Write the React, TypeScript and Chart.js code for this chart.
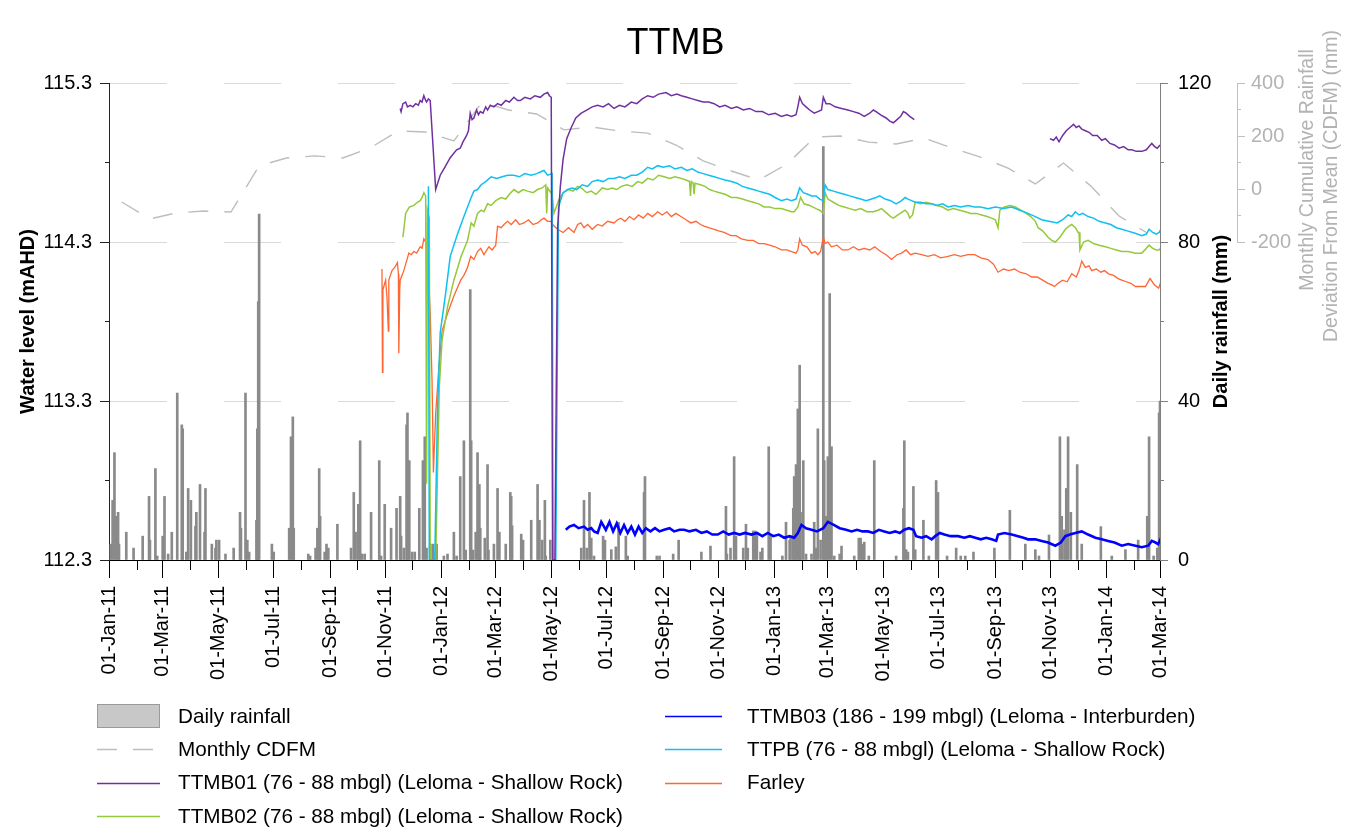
import React, { useEffect, useRef } from 'react';
import { Chart, registerables } from 'chart.js';

Chart.register(...registerables);

const FONT = '"Liberation Sans", Arial, Helvetica, sans-serif';
const MONTHS = ['Jan', 'Feb', 'Mar', 'Apr', 'May', 'Jun', 'Jul', 'Aug', 'Sep', 'Oct', 'Nov', 'Dec'];
const START = Date.UTC(2011, 0, 1);
const dayOfDate = (y: number, m: number, d: number) => Math.round((Date.UTC(y, m, d) - START) / 86400000);

// ---------- text ----------
const chartTitle = 'TTMB';
const leftAxisTitle = 'Water level (mAHD)';
const rainAxisTitle = 'Daily rainfall (mm)';
const cdfmAxisTitle = ['Monthly Cumulative Rainfall', 'Deviation From Mean (CDFM) (mm)'];

// ---------- ticks ----------
const xTickLabels = [
  '01-Jan-11', '01-Mar-11', '01-May-11', '01-Jul-11', '01-Sep-11', '01-Nov-11',
  '01-Jan-12', '01-Mar-12', '01-May-12', '01-Jul-12', '01-Sep-12', '01-Nov-12',
  '01-Jan-13', '01-Mar-13', '01-May-13', '01-Jul-13', '01-Sep-13', '01-Nov-13',
  '01-Jan-14', '01-Mar-14',
];
const leftTicks = [112.3, 113.3, 114.3, 115.3];
const leftMinorTicks = [112.8, 113.8, 114.8];
const rainTicks = [0, 40, 80, 120];
const rainMinorTicks = [20, 60, 100];
const cdfmTicks = [-200, 0, 200, 400];
const cdfmMinorTicks = [-100, 100, 300];

// ---------- data ----------
// Monthly CDFM (mm), plotted mid-month
const cdfmMonths = [
  'Jan-11', 'Feb-11', 'Mar-11', 'Apr-11', 'May-11', 'Jun-11', 'Jul-11', 'Aug-11', 'Sep-11', 'Oct-11', 'Nov-11', 'Dec-11',
  'Jan-12', 'Feb-12', 'Mar-12', 'Apr-12', 'May-12', 'Jun-12', 'Jul-12', 'Aug-12', 'Sep-12', 'Oct-12', 'Nov-12', 'Dec-12',
  'Jan-13', 'Feb-13', 'Mar-13', 'Apr-13', 'May-13', 'Jun-13', 'Jul-13', 'Aug-13', 'Sep-13', 'Oct-13', 'Nov-13', 'Dec-13',
  'Jan-14', 'Feb-14',
];
const cdfmValues = [
  -49, -113, -91, -83, -87, 87, 117, 125, 117, 155, 219, 215,
  181, 328, 298, 283, 223, 234, 219, 211, 166, 106, 68, 34,
  94, 196, 200, 177, 170, 192, 155, 121, 79, 19, 98, 11,
  -102, -166,
];

// Daily rainfall: [day since 01-Jan-11, mm]
const dailyRainfall: [number, number][] = [
  [2, 4], [4, 15], [6, 27], [8, 11], [10, 12], [11, 4], [19, 7], [27, 3], [37, 6], [44, 16], [45, 5], [51, 23], [53, 1],
  [59, 6], [61, 16], [65, 1.5], [69, 7], [75, 42], [80, 34], [81, 33], [85, 2], [87, 18], [90, 15], [95, 8.5], [96, 12],
  [100, 19], [105, 7], [106, 18], [113, 4], [117, 3], [118, 5], [121, 5], [128, 1.5], [137, 3], [144, 12], [145, 8],
  [150, 42], [152, 5], [154, 2], [162, 10], [163, 33], [164, 65], [165, 87], [179, 4], [181, 2], [198, 8], [200, 31],
  [202, 36], [203, 8], [219, 1.5], [221, 1], [227, 3], [229, 8], [231, 23], [232, 11], [237, 2], [239, 4], [241, 3],
  [251, 9], [266, 3], [269, 17], [271, 7], [274, 14], [276, 30], [278, 1.5], [281, 1.5], [288, 12], [297, 25], [299, 1],
  [303, 14], [310, 8], [316, 13], [320, 16], [321, 6], [324, 3], [327, 34], [328, 37], [330, 25], [333, 2], [336, 2],
  [341, 13], [345, 25], [347, 31], [349, 3], [353, 4], [356, 4], [360, 4], [368, 1], [372, 1.5], [379, 7], [382, 1],
  [386, 21], [390, 30], [392, 2.5], [397, 68], [398, 30], [400, 2.5], [403, 7], [405, 27], [407, 19], [408, 8], [413, 5.5],
  [416, 24], [417, 2.5], [423, 4], [427, 18], [429, 7], [436, 4], [441, 17], [442, 16], [443, 8.6], [453, 6.5], [455, 5],
  [464, 10], [471, 19], [473, 10], [476, 5], [479, 15], [480, 1], [485, 5],
  [519, 3], [522, 15], [525, 3], [528, 17], [530, 5.5], [533, 1], [543, 6], [545, 5], [552, 2.6], [557, 3.3], [560, 9.5],
  [568, 6], [570, 1], [588, 17], [589, 21], [602, 1], [605, 1], [620, 1.5], [626, 5], [651, 2], [661, 3.5], [678, 13.5],
  [679, 1.5], [683, 3], [687, 26], [689, 6], [697, 3], [700, 9], [702, 3], [708, 7.3], [710, 7.3], [712, 7], [716, 2],
  [718, 3], [725, 28.5], [727, 6], [740, 1], [744, 9.5], [748, 5], [749, 6], [752, 13], [753, 21], [755, 24], [757, 38],
  [759, 49], [760, 12], [763, 25], [766, 1.5], [772, 1.5], [775, 9.5], [777, 3], [779, 33], [782, 5], [785, 104], [786, 25],
  [788, 11], [790, 26], [792, 67], [794, 28.5], [797, 1], [803, 1.5], [805, 3.5], [819, 1], [824, 5.5], [826, 5.5], [828, 4],
  [830, 4.5], [835, 1], [841, 25], [865, 1], [873, 13], [874, 30], [876, 2.6], [878, 2], [884, 18.5], [886, 2.6], [895, 10],
  [901, 1], [909, 20], [911, 17], [921, 1], [931, 3], [936, 1], [941, 1], [950, 2], [973, 3], [990, 12.5], [1007, 4],
  [1018, 2.6], [1022, 1], [1033, 6.3], [1045, 31], [1047, 11], [1050, 7.6], [1052, 18], [1054, 31], [1057, 12], [1064, 24],
  [1069, 4], [1090, 8.4], [1102, 1], [1117, 2.6], [1131, 5], [1141, 11], [1143, 31], [1148, 1], [1152, 3], [1154, 37], [1155, 40],
];

// Water levels (mAHD): [day since 01-Jan-11, level]
const ttmb01Part1: [number, number][] = [
  [320, 115.14], [321, 115.12], [323, 115.17], [326, 115.18], [328, 115.15], [331, 115.16], [334, 115.15], [337, 115.17],
  [340, 115.16], [342, 115.19], [344, 115.18], [346, 115.22], [348, 115.19], [349, 115.18], [351, 115.2], [353, 115.19],
  [359, 114.63], [364, 114.72], [369, 114.77], [375, 114.83], [382, 114.88], [386, 114.89], [389, 114.93], [393, 114.97],
  [395, 115.0], [397, 115.11], [399, 115.07], [401, 115.08], [404, 115.13], [406, 115.1], [408, 115.12], [411, 115.11],
  [414, 115.15], [416, 115.13], [419, 115.16], [423, 115.15], [427, 115.17], [431, 115.16], [436, 115.19], [440, 115.18],
  [445, 115.21], [449, 115.19], [452, 115.19], [457, 115.21], [463, 115.2], [468, 115.22], [474, 115.21], [478, 115.23],
  [482, 115.24], [484, 115.22], [486, 115.21], [487.5, 112.3], [490, 112.3], [493, 114.39], [496, 114.65], [499, 114.82],
  [503, 114.95], [508, 115.02], [513, 115.08], [519, 115.11], [525, 115.13], [531, 115.15], [537, 115.16], [543, 115.15],
  [549, 115.17], [555, 115.14], [561, 115.16], [567, 115.15], [574, 115.18], [580, 115.17], [586, 115.2], [592, 115.22],
  [598, 115.21], [604, 115.23], [612, 115.24], [618, 115.22], [624, 115.23], [629, 115.22], [635, 115.21], [641, 115.2],
  [647, 115.19], [653, 115.18], [659, 115.18], [665, 115.17], [671, 115.15], [677, 115.16], [684, 115.14], [690, 115.15],
  [697, 115.13], [704, 115.14], [711, 115.12], [718, 115.12], [725, 115.1], [732, 115.11], [739, 115.09], [745, 115.1],
  [750, 115.09], [755, 115.1], [757, 115.15], [759, 115.21], [762, 115.17], [766, 115.15], [770, 115.13], [775, 115.11],
  [779, 115.12], [783, 115.13], [785, 115.21], [788, 115.17], [792, 115.17], [798, 115.15], [805, 115.14], [812, 115.13],
  [818, 115.12], [824, 115.11], [830, 115.09], [836, 115.11], [840, 115.13], [843, 115.12], [848, 115.1], [854, 115.08],
  [858, 115.06], [862, 115.05], [866, 115.07], [870, 115.09], [873, 115.12], [876, 115.11], [880, 115.09], [885, 115.07],
];
const ttmb01Part2: [number, number][] = [
  [1034, 114.95], [1038, 114.94], [1041, 114.96], [1044, 114.93], [1048, 114.97], [1052, 115.0], [1056, 115.02],
  [1060, 115.04], [1063, 115.02], [1066, 115.03], [1069, 115.01], [1073, 115.0], [1077, 114.99], [1081, 114.97],
  [1086, 114.97], [1091, 114.94], [1095, 114.95], [1100, 114.92], [1105, 114.91], [1110, 114.89], [1115, 114.9],
  [1120, 114.88], [1124, 114.88], [1129, 114.87], [1135, 114.87], [1140, 114.88], [1143, 114.9], [1146, 114.92],
  [1149, 114.9], [1152, 114.89], [1155, 114.91], [1158, 114.94],
];
const ttmb02: [number, number][] = [
  [323, 114.33], [326, 114.48], [330, 114.52], [335, 114.53], [339, 114.55], [342, 114.56], [344, 114.58], [346, 114.61],
  [348, 114.59], [349, 112.78], [350, 114.5], [352, 114.45], [353, 112.3], [359, 112.3], [363, 113.39], [366, 113.68],
  [372, 113.89], [379, 114.06], [387, 114.21], [394, 114.31], [398, 114.42], [401, 114.4], [405, 114.48], [409, 114.5],
  [412, 114.49], [416, 114.54], [420, 114.53], [425, 114.56], [431, 114.58], [436, 114.57], [440, 114.6], [445, 114.63],
  [450, 114.61], [455, 114.63], [460, 114.62], [466, 114.61], [471, 114.63], [476, 114.64], [480, 114.66], [481, 114.48],
  [482, 114.64], [487, 114.6], [489, 114.48], [494, 114.56], [499, 114.61], [505, 114.63], [510, 114.62], [515, 114.65],
  [519, 114.64], [525, 114.61], [530, 114.62], [535, 114.6], [537, 114.61], [542, 114.64], [548, 114.63], [553, 114.64],
  [558, 114.63], [563, 114.65], [569, 114.66], [575, 114.65], [581, 114.68], [586, 114.67], [592, 114.7], [598, 114.69],
  [604, 114.72], [610, 114.71], [616, 114.7], [622, 114.71], [629, 114.7], [634, 114.69], [638, 114.68], [639, 114.59],
  [640, 114.68], [642, 114.67], [643, 114.6], [644, 114.67], [650, 114.66], [655, 114.65], [660, 114.63], [665, 114.62],
  [671, 114.61], [677, 114.6], [684, 114.58], [690, 114.58], [696, 114.57], [702, 114.56], [708, 114.55], [714, 114.54],
  [720, 114.52], [726, 114.52], [732, 114.51], [739, 114.51], [745, 114.5], [750, 114.49], [753, 114.49], [757, 114.52],
  [760, 114.58], [764, 114.54], [770, 114.53], [777, 114.51], [781, 114.5], [785, 114.48], [787, 114.61], [790, 114.57],
  [796, 114.55], [802, 114.53], [808, 114.52], [814, 114.51], [820, 114.5], [826, 114.51], [833, 114.49], [840, 114.49],
  [845, 114.5], [849, 114.51], [855, 114.48], [859, 114.46], [862, 114.45], [867, 114.47], [872, 114.49], [875, 114.5],
  [878, 114.48], [880, 114.45], [883, 114.47], [886, 114.55], [892, 114.54], [898, 114.55], [904, 114.54], [910, 114.53],
  [916, 114.52], [922, 114.5], [928, 114.51], [935, 114.5], [941, 114.49], [947, 114.48], [953, 114.48], [959, 114.47],
  [965, 114.46], [970, 114.45], [974, 114.44], [977, 114.39], [979, 114.5], [984, 114.52], [990, 114.53], [996, 114.52],
  [1002, 114.5], [1008, 114.48], [1013, 114.46], [1018, 114.43], [1021, 114.39], [1026, 114.37], [1032, 114.33],
  [1036, 114.31], [1040, 114.3], [1045, 114.33], [1051, 114.38], [1055, 114.4], [1058, 114.41], [1062, 114.39],
  [1065, 114.36], [1066, 114.36], [1067, 114.25], [1071, 114.3], [1076, 114.31], [1082, 114.29], [1088, 114.28],
  [1095, 114.27], [1101, 114.26], [1107, 114.25], [1113, 114.24], [1120, 114.24], [1128, 114.23], [1135, 114.23],
  [1140, 114.26], [1143, 114.28], [1147, 114.26], [1151, 114.25], [1154, 114.25], [1157, 114.27], [1159, 114.3],
];
const ttmb03: [number, number][] = [
  [502, 112.49], [506, 112.51], [511, 112.52], [516, 112.5], [522, 112.51], [526, 112.49], [530, 112.5], [533, 112.48],
  [537, 112.47], [541, 112.54], [546, 112.49], [550, 112.54], [554, 112.48], [558, 112.53], [562, 112.47], [566, 112.52],
  [570, 112.47], [574, 112.51], [578, 112.46], [582, 112.51], [586, 112.47], [590, 112.5], [595, 112.48], [600, 112.5],
  [605, 112.48], [610, 112.49], [616, 112.5], [621, 112.48], [627, 112.49], [632, 112.49], [638, 112.48], [645, 112.49],
  [651, 112.47], [657, 112.48], [663, 112.46], [669, 112.46], [675, 112.48], [681, 112.46], [687, 112.47], [693, 112.46],
  [699, 112.47], [706, 112.46], [712, 112.47], [718, 112.45], [724, 112.47], [730, 112.45], [736, 112.46], [742, 112.44],
  [748, 112.45], [753, 112.44], [757, 112.47], [761, 112.52], [766, 112.5], [772, 112.49], [778, 112.48], [785, 112.5],
  [790, 112.54], [797, 112.52], [803, 112.5], [810, 112.49], [816, 112.48], [822, 112.49], [828, 112.48], [834, 112.48],
  [840, 112.47], [846, 112.49], [852, 112.48], [858, 112.47], [864, 112.48], [869, 112.47], [874, 112.49], [879, 112.5],
  [884, 112.49], [887, 112.45], [893, 112.44], [898, 112.45], [904, 112.43], [908, 112.45], [913, 112.47], [918, 112.46],
  [925, 112.45], [933, 112.45], [940, 112.44], [946, 112.45], [952, 112.44], [958, 112.43], [964, 112.44], [970, 112.43],
  [975, 112.42], [977, 112.46], [984, 112.47], [992, 112.46], [999, 112.45], [1005, 112.44], [1010, 112.43],
  [1018, 112.43], [1025, 112.42], [1032, 112.41], [1040, 112.39], [1046, 112.41], [1051, 112.45], [1056, 112.46],
  [1062, 112.47], [1069, 112.48], [1076, 112.46], [1084, 112.44], [1091, 112.43], [1098, 112.42], [1105, 112.41],
  [1113, 112.39], [1120, 112.4], [1128, 112.39], [1135, 112.38], [1142, 112.39], [1146, 112.42], [1150, 112.41],
  [1153, 112.4], [1158, 112.46],
];
const ttpb: [number, number][] = [
  [351, 114.65], [352, 112.3], [358, 112.3], [361, 113.24], [364, 113.73], [370, 113.98], [375, 114.21], [383, 114.35],
  [390, 114.46], [398, 114.58], [401, 114.62], [405, 114.63], [409, 114.66], [414, 114.68], [420, 114.71], [426, 114.7],
  [432, 114.71], [438, 114.72], [445, 114.72], [451, 114.71], [457, 114.73], [464, 114.72], [470, 114.73], [474, 114.74],
  [478, 114.75], [482, 114.72], [487, 114.73], [488, 112.3], [491, 112.3], [494, 114.52], [499, 114.61], [504, 114.63],
  [509, 114.64], [514, 114.63], [520, 114.66], [526, 114.65], [531, 114.68], [537, 114.69], [543, 114.68], [549, 114.7],
  [555, 114.7], [561, 114.71], [567, 114.7], [574, 114.72], [580, 114.72], [586, 114.74], [592, 114.77], [597, 114.76],
  [603, 114.78], [609, 114.77], [616, 114.78], [622, 114.76], [629, 114.77], [635, 114.75], [641, 114.76], [647, 114.74],
  [653, 114.73], [659, 114.72], [665, 114.71], [671, 114.7], [677, 114.69], [684, 114.68], [690, 114.67], [696, 114.65],
  [702, 114.64], [708, 114.63], [714, 114.62], [720, 114.61], [726, 114.6], [732, 114.58], [739, 114.56], [745, 114.57],
  [750, 114.56], [755, 114.57], [759, 114.64], [763, 114.61], [768, 114.6], [772, 114.59], [777, 114.59], [781, 114.57],
  [785, 114.56], [787, 114.66], [790, 114.63], [796, 114.62], [802, 114.61], [808, 114.6], [814, 114.59], [820, 114.58],
  [826, 114.57], [832, 114.56], [838, 114.57], [843, 114.58], [847, 114.59], [853, 114.57], [859, 114.56], [865, 114.54],
  [871, 114.56], [875, 114.58], [878, 114.57], [882, 114.56], [886, 114.55], [892, 114.55], [898, 114.54], [904, 114.54],
  [910, 114.53], [916, 114.54], [922, 114.52], [929, 114.53], [936, 114.52], [944, 114.53], [951, 114.52], [958, 114.52],
  [966, 114.51], [974, 114.52], [983, 114.51], [992, 114.52], [1001, 114.5], [1010, 114.48], [1018, 114.46],
  [1025, 114.44], [1033, 114.43], [1042, 114.42], [1048, 114.44], [1054, 114.47], [1058, 114.46], [1062, 114.49],
  [1066, 114.47], [1070, 114.48], [1076, 114.46], [1082, 114.45], [1088, 114.43], [1095, 114.42], [1101, 114.41],
  [1107, 114.39], [1113, 114.38], [1119, 114.37], [1125, 114.36], [1130, 114.35], [1135, 114.34], [1140, 114.35],
  [1143, 114.38], [1147, 114.36], [1151, 114.35], [1154, 114.36], [1157, 114.39], [1159, 114.41],
];
const farley: [number, number][] = [
  [300, 114.13], [300.5, 113.48], [301, 114.0], [304, 114.06], [305.5, 113.95], [307, 113.74], [307.5, 114.06],
  [311, 114.12], [314, 114.14], [317, 114.17], [318, 114.1], [318.5, 113.6], [319.5, 114.0], [320, 114.06], [324, 114.12],
  [327, 114.18], [329.5, 114.23], [332, 114.22], [335, 114.24], [338, 114.23], [342, 114.27], [344, 114.26], [346, 114.32],
  [348, 114.3], [350, 114.24], [353, 113.85], [355, 113.43], [356.5, 112.85], [359, 113.22], [362.5, 113.51],
  [366, 113.74], [372, 113.85], [379, 113.96], [386.5, 114.06], [390, 114.09], [394, 114.14], [397.5, 114.21],
  [401, 114.19], [405, 114.24], [408.5, 114.26], [412, 114.22], [417.5, 114.27], [421, 114.25], [425, 114.28],
  [427, 114.4], [431, 114.39], [434, 114.41], [438, 114.43], [442, 114.41], [447, 114.44], [451, 114.41], [456, 114.42],
  [461, 114.44], [466, 114.41], [471, 114.42], [475, 114.44], [478, 114.45], [482, 114.43], [485.5, 114.43],
  [489, 114.4], [493, 114.38], [499, 114.36], [505, 114.39], [511, 114.36], [515, 114.41], [518.5, 114.42], [522, 114.39],
  [526, 114.41], [531, 114.38], [537, 114.41], [542, 114.4], [548, 114.43], [555, 114.42], [559, 114.44], [562.5, 114.45],
  [567, 114.43], [572, 114.46], [577, 114.44], [582, 114.47], [587, 114.45], [592, 114.48], [597, 114.46], [603, 114.49],
  [608, 114.47], [613, 114.49], [618, 114.46], [623, 114.48], [628.5, 114.46], [634, 114.44], [639.5, 114.42],
  [645, 114.43], [650, 114.41], [654, 114.4], [659, 114.39], [665, 114.38], [670, 114.37], [676, 114.36], [683.5, 114.34],
  [689, 114.34], [695, 114.32], [702, 114.31], [708, 114.31], [714, 114.29], [720, 114.29], [726, 114.28], [732, 114.27],
  [739, 114.25], [745, 114.25], [750, 114.24], [755, 114.23], [757, 114.25], [759, 114.32], [762, 114.28], [767, 114.27],
  [772, 114.23], [776, 114.24], [779, 114.22], [782, 114.24], [785, 114.33], [787, 114.29], [790, 114.3], [794, 114.27],
  [800, 114.28], [806, 114.25], [812, 114.25], [818, 114.27], [824, 114.25], [830, 114.26], [836, 114.25],
  [841.5, 114.27], [848, 114.24], [854, 114.22], [860, 114.19], [866, 114.22], [871, 114.23], [876, 114.25],
  [881, 114.22], [886, 114.23], [893, 114.22], [900, 114.21], [907, 114.22], [914, 114.2], [922, 114.21], [929, 114.22],
  [936, 114.21], [944, 114.22], [951.5, 114.22], [958, 114.2], [966, 114.19], [972, 114.16], [977, 114.11],
  [983, 114.13], [989, 114.12], [995, 114.13], [1001, 114.11], [1008, 114.1], [1014, 114.08], [1020, 114.08],
  [1026, 114.06], [1032, 114.04], [1036, 114.03], [1039, 114.02], [1043, 114.04], [1048, 114.06], [1053, 114.05],
  [1058, 114.1], [1063, 114.08], [1066, 114.12], [1069, 114.18], [1073, 114.14], [1077, 114.15], [1080, 114.12],
  [1085, 114.13], [1090, 114.11], [1094, 114.12], [1098.5, 114.1], [1104, 114.09], [1109, 114.07], [1113, 114.06],
  [1118, 114.05], [1123, 114.04], [1128, 114.02], [1133, 114.02], [1139, 114.02], [1144, 114.07], [1149, 114.03],
  [1153.5, 114.01], [1156, 114.05], [1158, 114.06],
];

// ---------- series meta ----------
const LBL_RAIN = 'Daily rainfall';
const LBL_CDFM = 'Monthly CDFM';
const LBL_01 = 'TTMB01 (76 - 88 mbgl) (Leloma - Shallow Rock)';
const LBL_02 = 'TTMB02 (76 - 88 mbgl) (Leloma - Shallow Rock)';
const LBL_03 = 'TTMB03 (186 - 199 mbgl) (Leloma - Interburden)';
const LBL_PB = 'TTPB (76 - 88 mbgl) (Leloma - Shallow Rock)';
const LBL_FA = 'Farley';
const legendOrder = [LBL_RAIN, LBL_CDFM, LBL_01, LBL_02, LBL_03, LBL_PB, LBL_FA];

// ---------- helpers ----------
const parseTickLabel = (s: string) => {
  const [d, mon, yy] = s.split('-');
  return dayOfDate(2000 + Number(yy), MONTHS.indexOf(mon), Number(d));
};
const xMajorTicks = xTickLabels.map(parseTickLabel);
const X_MIN = xMajorTicks[0];
const X_MAX = xMajorTicks[xMajorTicks.length - 1];
const xMinorTicks: number[] = [];
for (let i = 0; ; i++) {
  const v = dayOfDate(2011 + Math.floor(i / 12), i % 12, 1);
  if (v > X_MAX) break;
  xMinorTicks.push(v);
}
const cdfmPoints = cdfmMonths.map((m, i) => {
  const [mon, yy] = m.split('-');
  return { x: dayOfDate(2000 + Number(yy), MONTHS.indexOf(mon), 15), y: cdfmValues[i] };
});
const toXY = (arr: [number, number][]) => arr.map(([x, y]) => ({ x, y }));
const setTicks = (vals: number[]) => (scale: any) => {
  scale.ticks = vals.map((v) => ({ value: v }));
};
const fixW = (w: number) => (scale: any) => {
  scale.width = w;
};
const fixH = (h: number) => (scale: any) => {
  scale.height = h;
};
const minorAxis = (position: string, min: number, max: number, vals: number[], weight: number, len: number, color: string) => ({
  type: 'linear',
  position,
  min,
  max,
  weight,
  offset: false,
  afterBuildTicks: setTicks(vals),
  afterFit: position === 'bottom' ? fixH(0) : fixW(0),
  ticks: { display: false },
  grid: { drawOnChartArea: false, tickLength: len, tickColor: color, color, offset: false },
  border: { display: false },
});

const overlayPlugin = {
  id: 'overlay',
  afterDraw(chart: any) {
    const { ctx, chartArea } = chart;
    const yC = chart.scales.yC;
    const yR = chart.scales.yR;
    ctx.save();
    // CDFM axis line (only over its labelled span)
    ctx.strokeStyle = '#c0c0c0';
    ctx.lineWidth = 1;
    const xa = Math.round(yC.left) + 0.5;
    ctx.beginPath();
    ctx.moveTo(xa, yC.getPixelForValue(cdfmTicks[cdfmTicks.length - 1]));
    ctx.lineTo(xa, yC.getPixelForValue(cdfmTicks[0]));
    ctx.stroke();

    // chart title
    ctx.fillStyle = '#000';
    ctx.textAlign = 'center';
    ctx.textBaseline = 'middle';
    ctx.font = `36px ${FONT}`;
    ctx.fillText(chartTitle, chart.width / 2, 44);

    // rainfall axis title
    ctx.save();
    ctx.translate(yR.right - 16, (chartArea.top + chartArea.bottom) / 2);
    ctx.rotate(-Math.PI / 2);
    ctx.font = `bold 20px ${FONT}`;
    ctx.fillText(rainAxisTitle, 0, 0);
    ctx.restore();

    // CDFM axis title (two lines)
    const cdfmCenters = [170, 186];
    ctx.save();
    ctx.font = `19.5px ${FONT}`;
    ctx.fillStyle = '#b3b3b3';
    cdfmAxisTitle.forEach((t, i) => {
      ctx.save();
      ctx.translate(yC.left + 71 + i * 24, cdfmCenters[i]);
      ctx.rotate(-Math.PI / 2);
      ctx.fillText(t, 0, 0);
      ctx.restore();
    });
    ctx.restore();

    // legend (two columns, column-major)
    ctx.font = `20.7px ${FONT}`;
    ctx.textAlign = 'left';
    ctx.textBaseline = 'middle';
    legendOrder.forEach((label, i) => {
      const ds = chart.data.datasets.find((d: any) => d.label === label);
      if (!ds) return;
      const col = i < 4 ? 0 : 1;
      const row = col ? i - 4 : i;
      const sx = col ? 665 : 97;
      const sw = col ? 57 : 63;
      const tx = col ? 747 : 178;
      const cy = 716 + row * 33.3;
      if (ds.type === 'bar') {
        ctx.fillStyle = '#c8c8c8';
        ctx.fillRect(sx, cy - 12, sw, 24);
        ctx.strokeStyle = '#9a9a9a';
        ctx.lineWidth = 1;
        ctx.strokeRect(sx + 0.5, cy - 11.5, sw - 1, 23);
      } else {
        ctx.save();
        ctx.strokeStyle = ds.borderColor;
        ctx.lineWidth = 1.3;
        ctx.setLineDash(ds.borderDash || []);
        ctx.beginPath();
        ctx.moveTo(sx, Math.round(cy) + 0.5);
        ctx.lineTo(sx + sw, Math.round(cy) + 0.5);
        ctx.stroke();
        ctx.restore();
      }
      ctx.fillStyle = '#000';
      ctx.fillText(label, tx, cy + 1);
    });
    ctx.restore();
  },
};

export default function App() {
  const ref = useRef<HTMLCanvasElement>(null);

  useEffect(() => {
    if (!ref.current) return;
    Chart.defaults.font.family = FONT;
    const lineDs = (label: string, data: any[], color: string, width: number, order: number) => ({
      type: 'line',
      label,
      data,
      borderColor: color,
      backgroundColor: color,
      borderWidth: width,
      pointRadius: 0,
      tension: 0,
      spanGaps: false,
      xAxisID: 'x',
      yAxisID: 'y',
      order,
    });
    const chart = new Chart(ref.current, {
      type: 'line',
      data: {
        datasets: [
          lineDs(LBL_01, [...toXY(ttmb01Part1), { x: 960, y: null }, ...toXY(ttmb01Part2)], '#7030a0', 1.5, 1),
          lineDs(LBL_03, toXY(ttmb03), '#0000ff', 2.6, 2),
          lineDs(LBL_PB, toXY(ttpb), '#0fc0f0', 1.5, 3),
          lineDs(LBL_02, toXY(ttmb02), '#94c93a', 1.5, 4),
          lineDs(LBL_FA, toXY(farley), '#ff6633', 1.3, 5),
          {
            type: 'line',
            label: LBL_CDFM,
            data: cdfmPoints,
            borderColor: '#bdbdbd',
            backgroundColor: '#bdbdbd',
            borderWidth: 1.4,
            borderDash: [20, 16],
            pointRadius: 0,
            tension: 0,
            xAxisID: 'x',
            yAxisID: 'yC',
            order: 6,
          },
          {
            type: 'bar',
            label: LBL_RAIN,
            data: toXY(dailyRainfall),
            backgroundColor: '#8a8a8a',
            borderWidth: 0,
            barThickness: 2,
            xAxisID: 'x',
            yAxisID: 'yR',
            order: 7,
          },
        ] as any,
      },
      options: {
        responsive: false,
        animation: false,
        events: [],
        layout: { padding: { top: 83, left: 0, right: 0, bottom: 0 } },
        plugins: {
          legend: { display: false },
          title: { display: false },
          tooltip: { enabled: false },
        },
        scales: {
          x: {
            type: 'linear',
            position: 'bottom',
            min: X_MIN,
            max: X_MAX,
            weight: 1,
            offset: false,
            afterBuildTicks: setTicks(xMajorTicks),
            afterFit: fixH(273),
            ticks: {
              autoSkip: false,
              maxRotation: 90,
              minRotation: 90,
              padding: 8,
              color: '#000',
              font: { size: 20 },
              callback: (v: any) => {
                const i = xMajorTicks.indexOf(Number(v));
                return i >= 0 ? xTickLabels[i] : '';
              },
            },
            grid: { drawOnChartArea: false, tickLength: 18, tickColor: '#000', color: '#000', offset: false },
            border: { color: '#000', width: 1 },
          },
          xm: minorAxis('bottom', X_MIN, X_MAX, xMinorTicks, 0, 10, '#000'),
          y: {
            type: 'linear',
            position: 'left',
            min: leftTicks[0],
            max: leftTicks[leftTicks.length - 1],
            weight: 1,
            afterBuildTicks: setTicks(leftTicks),
            afterFit: fixW(109),
            ticks: {
              color: '#000',
              font: { size: 20 },
              padding: 8,
              callback: (v: any) => Number(v).toFixed(1),
            },
            grid: {
              color: (c: any) => (c.tick && c.tick.value === leftTicks[0] ? 'rgba(0,0,0,0)' : '#d9d9d9'),
              tickColor: '#222',
              tickLength: 9,
              lineWidth: 1,
            },
            border: { color: '#222', dash: [57, 57] },
            title: {
              display: true,
              text: leftAxisTitle,
              color: '#000',
              font: { size: 20, weight: 'bold' },
              padding: { top: 16, bottom: 0 },
            },
          },
          ym: minorAxis('left', leftTicks[0], leftTicks[leftTicks.length - 1], leftMinorTicks, 0, 4, '#222'),
          yRm: minorAxis('right', rainTicks[0], rainTicks[rainTicks.length - 1], rainMinorTicks, 0, 4, '#808080'),
          yR: {
            type: 'linear',
            position: 'right',
            min: rainTicks[0],
            max: rainTicks[rainTicks.length - 1],
            weight: 1,
            afterBuildTicks: setTicks(rainTicks),
            afterFit: fixW(77),
            ticks: { color: '#000', font: { size: 20 }, padding: 10 },
            grid: { drawOnChartArea: false, tickColor: '#808080', color: '#808080', tickLength: 8 },
            border: { color: '#808080' },
          },
          yCm: minorAxis('right', -1400, cdfmTicks[cdfmTicks.length - 1], cdfmMinorTicks, 2, 4, '#c0c0c0'),
          yC: {
            type: 'linear',
            position: 'right',
            min: -1400,
            max: cdfmTicks[cdfmTicks.length - 1],
            weight: 3,
            afterBuildTicks: setTicks(cdfmTicks),
            afterFit: fixW(114),
            ticks: { color: '#b3b3b3', font: { size: 20 }, padding: 6 },
            grid: { drawOnChartArea: false, tickColor: '#c0c0c0', color: '#c0c0c0', tickLength: 8 },
            border: { display: false },
          },
        } as any,
      },
      plugins: [overlayPlugin],
    } as any);
    return () => chart.destroy();
  }, []);

  return (
    <div style={{ position: 'fixed', left: 0, top: 0, width: 1351, height: 833, background: '#fff' }}>
      <canvas ref={ref} width={1351} height={833} style={{ display: 'block', width: 1351, height: 833 }} />
    </div>
  );
}
